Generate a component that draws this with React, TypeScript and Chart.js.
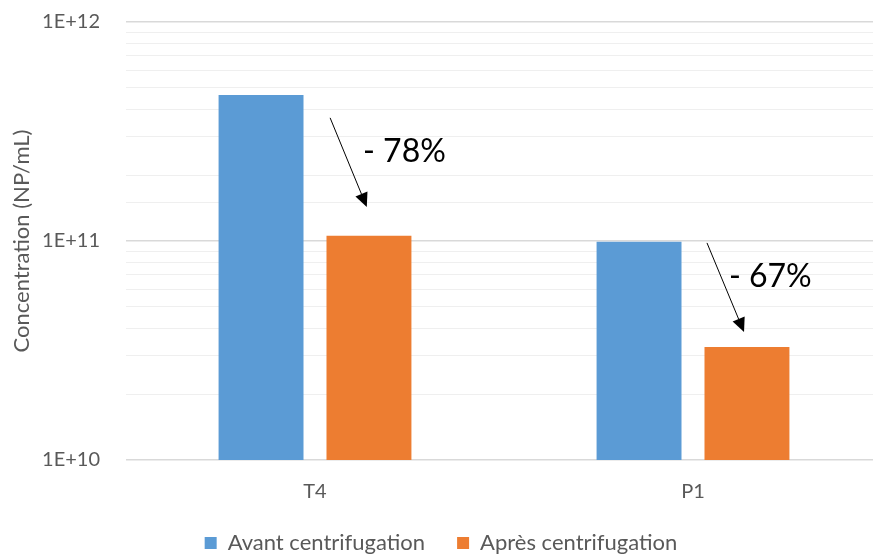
import React, { useEffect, useRef } from "react";
import { Chart, registerables } from "chart.js";

Chart.register(...registerables);

const categories = ["T4", "P1"];
const avantValues = [4.64e11, 9.93e10];
const apresValues = [1.057e11, 3.28e10];
const seriesLabels = ["Avant centrifugation", "Après centrifugation"];
const yMin = 1e10;
const yMax = 1e12;
const yTickLabels: Record<string, string> = { "10": "1E+10", "11": "1E+11", "12": "1E+12" };

// annotations anchored in data space (category index + fraction of category width, value)
const annotationTexts = ["- 78%", "- 67%"];
const annotationCategory = [0, 1];
const arrowStart = [
  [0.04, 3.65e11],
  [0.037, 9.8e10],
];
const arrowEnd = [
  [0.137, 1.43e11],
  [0.135, 3.84e10],
];
const textAnchor = [
  [0.127, 2.55e11],
  [0.095, 6.86e10],
];

const FONT = "Lato, 'Open Sans', sans-serif";
const GREY = "#595959";

const annotationPlugin = {
  id: "arrows",
  afterDatasetsDraw(chart: any) {
    const xs = chart.scales.x;
    const ys = chart.scales.y;
    const catW = xs.width / categories.length;
    const ctx = chart.ctx;
    ctx.save();
    for (let i = 0; i < annotationTexts.length; i++) {
      const cx = xs.getPixelForValue(annotationCategory[i]);
      const x1 = cx + arrowStart[i][0] * catW;
      const y1 = ys.getPixelForValue(arrowStart[i][1]);
      const x2 = cx + arrowEnd[i][0] * catW;
      const y2 = ys.getPixelForValue(arrowEnd[i][1]);
      const ang = Math.atan2(y2 - y1, x2 - x1);
      const head = 14;
      const hw = 6.5;
      const bx = x2 - head * Math.cos(ang);
      const by = y2 - head * Math.sin(ang);
      ctx.strokeStyle = "#000";
      ctx.fillStyle = "#000";
      ctx.lineWidth = 1;
      ctx.beginPath();
      ctx.moveTo(x1, y1);
      ctx.lineTo(bx, by);
      ctx.stroke();
      ctx.beginPath();
      ctx.moveTo(x2, y2);
      ctx.lineTo(bx + hw * Math.sin(ang), by - hw * Math.cos(ang));
      ctx.lineTo(bx - hw * Math.sin(ang), by + hw * Math.cos(ang));
      ctx.closePath();
      ctx.fill();
      const tx = cx + textAnchor[i][0] * catW;
      const ty = ys.getPixelForValue(textAnchor[i][1]);
      ctx.font = `32px ${FONT}`;
      ctx.textAlign = "left";
      ctx.textBaseline = "middle";
      ctx.fillText(annotationTexts[i], tx, ty);
    }
    ctx.restore();
  },
};

export default function App() {
  const ref = useRef<HTMLCanvasElement | null>(null);
  useEffect(() => {
    if (!ref.current) return;
    const chart = new Chart(ref.current, {
      type: "bar",
      data: {
        labels: categories,
        datasets: [
          {
            label: seriesLabels[0],
            data: avantValues,
            backgroundColor: "#5B9BD5",
            borderWidth: 0,
          },
          {
            label: seriesLabels[1],
            data: apresValues,
            backgroundColor: "#ED7D31",
            borderWidth: 0,
          },
        ],
      },
      options: {
        responsive: false,
        animation: false,
        layout: { padding: { top: 0, right: 8, left: 0, bottom: -10 } },
        plugins: {
          legend: {
            position: "bottom",
            labels: {
              boxWidth: 12,
              boxHeight: 12,
              padding: 32,
              color: GREY,
              font: { family: FONT, size: 22 },
            },
          },
          tooltip: { enabled: false },
        },
        datasets: {
          bar: { categoryPercentage: 0.571, barPercentage: 0.787 },
        },
        scales: {
          x: {
            grid: { display: false, drawTicks: false },
            border: { display: false },
            ticks: { color: GREY, font: { family: FONT, size: 20 }, padding: 20 },
            afterFit: (s: any) => {
              s.height = 40;
            },
          },
          y: {
            type: "logarithmic",
            min: yMin,
            max: yMax,
            border: { display: false },
            grid: {
              drawTicks: false,
              color: (c: any) => {
                const v = c.tick ? c.tick.value : 0;
                const e = Math.log10(v);
                return Math.abs(e - Math.round(e)) < 1e-6 ? "#D9D9D9" : "#EFEFEF";
              },
              lineWidth: (c: any) => {
                const v = c.tick ? c.tick.value : 0;
                const e = Math.log10(v);
                return Math.abs(e - Math.round(e)) < 1e-6 ? 1.5 : 1;
              },
            },
            ticks: {
              color: GREY,
              font: { family: FONT, size: 20 },
              padding: 26,
              autoSkip: false,
              callback: (v: any) => {
                const e = Math.log10(Number(v));
                if (Math.abs(e - Math.round(e)) < 1e-6) return yTickLabels[String(Math.round(e))] ?? "";
                return "";
              },
            },
            title: {
              display: true,
              text: "Concentration (NP/mL)",
              color: GREY,
              font: { family: FONT, size: 22 },
              padding: { top: 9, bottom: 0 },
            },
            afterFit: (s: any) => {
              s.width = 126;
              s.paddingTop = 22;
              s.paddingBottom = 0;
            },
          },
        },
      },
      plugins: [annotationPlugin],
    });
    return () => chart.destroy();
  }, []);
  return (
    <div style={{ position: "absolute", left: 0, top: 0, width: 873, height: 554, overflow: "hidden", background: "#fff" }}>
      <canvas ref={ref} width={890} height={554} style={{ display: "block" }} />
    </div>
  );
}
